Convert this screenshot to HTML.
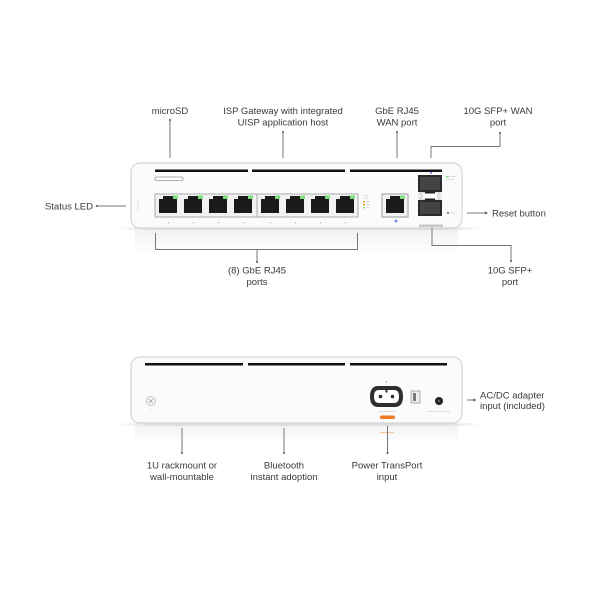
<!DOCTYPE html>
<html><head><meta charset="utf-8"><style>
html,body{margin:0;padding:0;background:#fff;}
svg{display:block;}
text{font-family:"Liberation Sans",sans-serif;font-size:9.5px;fill:#3a3a3a;}
</style></head><body>
<svg width="600" height="600" viewBox="0 0 600 600" xmlns="http://www.w3.org/2000/svg">
<defs>
<linearGradient id="refl" x1="0" y1="0" x2="0" y2="1">
<stop offset="0" stop-color="#e8e8e8"/><stop offset="1" stop-color="#ffffff"/>
</linearGradient>
<linearGradient id="shad" x1="0" y1="0" x2="1" y2="0">
<stop offset="0" stop-color="#fff"/><stop offset="0.1" stop-color="#ddd"/><stop offset="0.9" stop-color="#ddd"/><stop offset="1" stop-color="#fff"/>
</linearGradient>
</defs>

<!-- FRONT DEVICE -->
<rect x="118" y="227" width="362" height="3" fill="url(#shad)"/>
<rect x="135" y="230" width="323" height="24" fill="url(#refl)" opacity="0.6"/>
<rect x="131" y="163" width="331" height="65" rx="9" fill="#fbfbfb" stroke="#d4d4d4" stroke-width="1.2"/>
<!-- top bars -->
<rect x="155" y="169.5" width="93" height="2.5" fill="#111"/>
<rect x="252" y="169.5" width="93" height="2.5" fill="#111"/>
<rect x="350" y="169.5" width="92" height="2.5" fill="#111"/>
<!-- microSD -->
<rect x="155" y="177" width="28" height="3.5" rx="1.5" fill="#fff" stroke="#999" stroke-width="0.8"/>
<!-- status led -->
<line x1="138" y1="200" x2="138" y2="212" stroke="#e6e6e6" stroke-width="1"/>
<!-- ports group outline -->
<rect x="155" y="194" width="203" height="23" fill="#f2f2f2" stroke="#aaa" stroke-width="1"/>
<line x1="257" y1="194" x2="257" y2="217" stroke="#aaa" stroke-width="1"/>
<g id="ports">
<g transform="translate(157,0)">
<path d="M2 199 H6 V196 H16 V199 H20 V213 H2 Z" fill="#1a1a1a"/><rect x="16" y="195.5" width="5" height="3.5" fill="#7de07d"/>
</g>
<g transform="translate(182,0)">
<path d="M2 199 H6 V196 H16 V199 H20 V213 H2 Z" fill="#1a1a1a"/><rect x="16" y="195.5" width="5" height="3.5" fill="#7de07d"/>
</g>
<g transform="translate(207,0)">
<path d="M2 199 H6 V196 H16 V199 H20 V213 H2 Z" fill="#1a1a1a"/><rect x="16" y="195.5" width="5" height="3.5" fill="#7de07d"/>
</g>
<g transform="translate(232,0)">
<path d="M2 199 H6 V196 H16 V199 H20 V213 H2 Z" fill="#1a1a1a"/><rect x="16" y="195.5" width="5" height="3.5" fill="#7de07d"/>
</g>
<g transform="translate(259,0)">
<path d="M2 199 H6 V196 H16 V199 H20 V213 H2 Z" fill="#1a1a1a"/><rect x="16" y="195.5" width="5" height="3.5" fill="#7de07d"/>
</g>
<g transform="translate(284,0)">
<path d="M2 199 H6 V196 H16 V199 H20 V213 H2 Z" fill="#1a1a1a"/><rect x="16" y="195.5" width="5" height="3.5" fill="#7de07d"/>
</g>
<g transform="translate(309,0)">
<path d="M2 199 H6 V196 H16 V199 H20 V213 H2 Z" fill="#1a1a1a"/><rect x="16" y="195.5" width="5" height="3.5" fill="#7de07d"/>
</g>
<g transform="translate(334,0)">
<path d="M2 199 H6 V196 H16 V199 H20 V213 H2 Z" fill="#1a1a1a"/><rect x="16" y="195.5" width="5" height="3.5" fill="#7de07d"/>
</g>
</g>
<!-- port number dots -->
<g fill="#bbb">
<rect x="168" y="222" width="1" height="1.5"/><rect x="193" y="222" width="1" height="1.5"/><rect x="218" y="222" width="1" height="1.5"/><rect x="243" y="222" width="1" height="1.5"/>
<rect x="270" y="222" width="1" height="1.5"/><rect x="295" y="222" width="1" height="1.5"/><rect x="320" y="222" width="1" height="1.5"/><rect x="345" y="222" width="1" height="1.5"/>
</g>
<!-- small leds -->
<circle cx="366" cy="197" r="2" fill="none" stroke="#ccc" stroke-width="0.6"/>
<rect x="363" y="201" width="2" height="1.5" fill="#f0a020"/><rect x="366" y="201" width="4" height="1" fill="#ddd"/>
<rect x="363" y="204" width="2" height="1.5" fill="#f0a020"/><rect x="366" y="204" width="4" height="1" fill="#ddd"/>
<rect x="363" y="207" width="2" height="1.5" fill="#8de08d"/><rect x="366" y="207" width="4" height="1" fill="#ddd"/>
<!-- WAN port -->
<rect x="382" y="194" width="26" height="23" fill="#f2f2f2" stroke="#999" stroke-width="1"/>
<path d="M386 199 H390 V196 H400 V199 H404 V213 H386 Z" fill="#1a1a1a"/>
<rect x="400" y="195.5" width="5" height="3.5" fill="#7de07d"/>
<circle cx="396" cy="221" r="1.5" fill="#7a8fe0"/>
<!-- SFP -->
<rect x="430" y="172" width="2" height="2" fill="#8fa0e8"/>
<rect x="418" y="175" width="24" height="17" fill="#2b2b2b"/>
<rect x="420" y="177" width="20" height="13" fill="#444"/>
<rect x="418" y="200" width="24" height="16" fill="#2b2b2b"/>
<rect x="420" y="202" width="20" height="12" fill="#444"/>
<path d="M418 192 H442 V200 H418 Z" fill="#ececec"/>
<path d="M420 193 H440 L437 196 L440 199 H420 L423 196 Z" fill="#fff" stroke="#bbb" stroke-width="0.6"/>
<rect x="425" y="192" width="10" height="1.5" fill="#222"/>
<rect x="425" y="198.5" width="10" height="1.5" fill="#222"/>
<rect x="419" y="224.5" width="24" height="2.5" fill="#c8c8c8"/>
<rect x="446" y="176" width="3" height="1.5" fill="#8de08d"/><rect x="450" y="176" width="6" height="1" fill="#ddd"/>
<rect x="446" y="179" width="8" height="1" fill="#ddd"/>
<circle cx="448" cy="213" r="0.9" fill="#333"/><rect x="450" y="212.5" width="7" height="1" fill="#ddd"/>

<!-- FRONT CONNECTORS -->
<g stroke="#777" stroke-width="1" fill="none">
<line x1="170" y1="120" x2="170" y2="158"/>
<line x1="283" y1="132" x2="283" y2="158"/>
<line x1="397" y1="132" x2="397" y2="158"/>
<polyline points="431,158 431,146.5 500,146.5 500,133"/>
<line x1="97" y1="206" x2="126" y2="206"/>
<line x1="467" y1="213" x2="487" y2="213"/>
<polyline points="432,228 432,245.5 511,245.5 511,261"/>
<polyline points="155.5,233 155.5,249.5 357.5,249.5 357.5,233"/>
<line x1="257" y1="249.5" x2="257" y2="262"/>
</g>
<g fill="#555">
<circle cx="170" cy="120" r="1"/><circle cx="283" cy="132" r="1"/><circle cx="397" cy="132" r="1"/><circle cx="500" cy="133" r="1"/>
<circle cx="97" cy="206" r="1"/><path d="M488 213 L485 211.5 L485 214.5 Z"/><circle cx="511" cy="261" r="1"/><circle cx="257" cy="262" r="1"/>
</g>

<!-- FRONT LABELS -->
<text x="170" y="114" text-anchor="middle">microSD</text>
<text x="283" y="114" text-anchor="middle">ISP Gateway with integrated</text>
<text x="283" y="125.5" text-anchor="middle">UISP application host</text>
<text x="397" y="114" text-anchor="middle">GbE RJ45</text>
<text x="397" y="125.5" text-anchor="middle">WAN port</text>
<text x="498" y="114" text-anchor="middle">10G SFP+ WAN</text>
<text x="498" y="125.5" text-anchor="middle">port</text>
<text x="93" y="209.5" text-anchor="end">Status LED</text>
<text x="492" y="216.5">Reset button</text>
<text x="257" y="273.5" text-anchor="middle">(8) GbE RJ45</text>
<text x="257" y="285" text-anchor="middle">ports</text>
<text x="510" y="273.5" text-anchor="middle">10G SFP+</text>
<text x="510" y="285" text-anchor="middle">port</text>

<!-- BACK DEVICE -->
<rect x="118" y="423" width="362" height="3" fill="url(#shad)"/>
<rect x="135" y="426" width="323" height="18" fill="url(#refl)" opacity="0.5"/>
<rect x="131" y="357" width="331" height="66" rx="9" fill="#fbfbfb" stroke="#d4d4d4" stroke-width="1.2"/>
<rect x="145" y="363" width="98" height="2.5" fill="#111"/>
<rect x="248" y="363" width="97" height="2.5" fill="#111"/>
<rect x="350" y="363" width="97" height="2.5" fill="#111"/>
<!-- screw -->
<circle cx="151" cy="401" r="4.5" fill="#f6f6f6" stroke="#bbb" stroke-width="0.8"/>
<path d="M149 399 L153 403 M153 399 L149 403" stroke="#999" stroke-width="0.6"/>
<rect x="150.5" y="409" width="1" height="1" fill="#ccc"/>
<!-- power transport -->
<rect x="386" y="381" width="1" height="1.5" fill="#999"/>
<path d="M378 386 H395 C401 386 403 391 403 396.5 C403 402 401 407 395 407 H378 C372 407 370 402 370 396.5 C370 391 372 386 378 386 Z" fill="#2e2e2e"/>
<path d="M379 390 H394 C398 390 399 393 399 396.5 C399 400 398 403 394 403 H379 C375 403 374 400 374 396.5 C374 393 375 390 379 390 Z" fill="#fff"/>
<rect x="385.5" y="389.5" width="2" height="3" fill="#2e2e2e"/>
<circle cx="380.5" cy="396.5" r="1.8" fill="#2e2e2e"/>
<circle cx="392.5" cy="396.5" r="1.8" fill="#2e2e2e"/>
<rect x="378" y="411" width="18" height="1" fill="#ddd"/>
<rect x="380" y="415.5" width="15" height="3.5" rx="1.5" fill="#f07a20"/>
<!-- usb -->
<rect x="411" y="391" width="9" height="12" fill="#eee" stroke="#999" stroke-width="0.8"/>
<rect x="413" y="393" width="3" height="8" fill="#777"/>
<!-- dc jack -->
<circle cx="439" cy="401" r="4" fill="#222"/>
<circle cx="439" cy="401" r="1" fill="#777"/>
<rect x="428" y="411" width="22" height="1" fill="#ddd"/>
<rect x="380" y="432" width="14" height="1.2" fill="#f5c9a0"/>

<!-- BACK CONNECTORS -->
<g stroke="#777" stroke-width="1" fill="none">
<line x1="182" y1="428" x2="182" y2="453"/>
<line x1="284" y1="428" x2="284" y2="453"/>
<line x1="387.5" y1="426" x2="387.5" y2="453"/>
<line x1="467" y1="400" x2="475" y2="400"/>
</g>
<g fill="#555">
<circle cx="182" cy="453" r="1"/><circle cx="284" cy="453" r="1"/><circle cx="387.5" cy="453" r="1"/>
<path d="M476.5 400 L473.5 398.5 L473.5 401.5 Z"/>
</g>

<!-- BACK LABELS -->
<text x="182" y="468.5" text-anchor="middle">1U rackmount or</text>
<text x="182" y="480" text-anchor="middle">wall-mountable</text>
<text x="284" y="468.5" text-anchor="middle">Bluetooth</text>
<text x="284" y="480" text-anchor="middle">instant adoption</text>
<text x="387" y="468.5" text-anchor="middle">Power TransPort</text>
<text x="387" y="480" text-anchor="middle">input</text>
<text x="480" y="398.5">AC/DC adapter</text>
<text x="480" y="409">input (included)</text>
</svg>
</body></html>
